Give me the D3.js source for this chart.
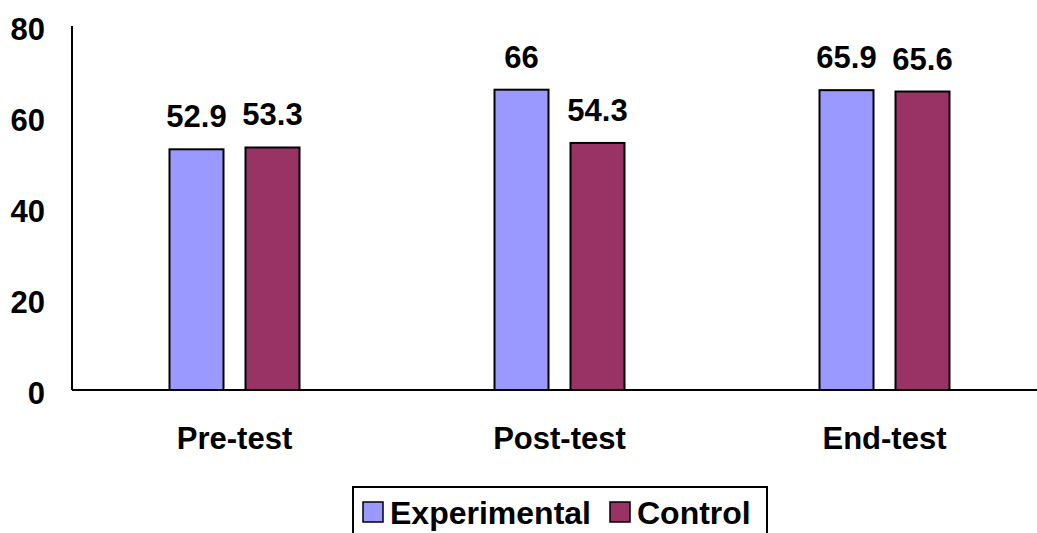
<!DOCTYPE html>
<html>
<head>
<meta charset="utf-8">
<script src="https://cdn.jsdelivr.net/npm/d3@7"></script>
<style>
  html, body { margin: 0; padding: 0; background: #fff; }
  svg { display: block; }
  text { font-family: "Liberation Sans", Arial, sans-serif; font-weight: bold; fill: #000; }
</style>
</head>
<body>
<svg id="chart" width="1037" height="533"></svg>
<script>
// Test phases and group scores
const categories = ["Pre-test", "Post-test", "End-test"];
const seriesNames = ["Experimental", "Control"];
const experimental = [52.9, 66, 65.9];
const control = [53.3, 54.3, 65.6];
const yTicks = [0, 20, 40, 60, 80];
const colors = ["#9999FF", "#993366"];

(function () {
  const svg = d3.select("#chart");
  const W = 1037;
  const plotLeft = 72, plotBottom = 390, plotTop = 26;
  const fontSize = 31;

  const seriesValues = [experimental, control];
  const rows = categories.map((c, i) => ({
    category: c,
    values: seriesNames.map((s, j) => ({ series: s, value: seriesValues[j][i], color: colors[j] }))
  }));

  const x0 = d3.scaleBand().domain(categories).range([plotLeft, plotLeft + 975]).padding(0);
  const x1 = d3.scaleBand().domain(seriesNames)
    .range([97.5, 227.5]).paddingInner(22 / 76).paddingOuter(0);
  const y = d3.scaleLinear().domain([0, 80]).range([plotBottom, plotTop]);

  // Y tick labels
  svg.append("g").selectAll("text").data(yTicks).join("text")
    .attr("x", 45)
    .attr("y", d => y(d) + 3)
    .attr("text-anchor", "end")
    .attr("dominant-baseline", "central")
    .attr("font-size", fontSize)
    .text(d => d);

  // Bars
  const groups = svg.append("g").selectAll("g").data(rows).join("g")
    .attr("transform", d => `translate(${x0(d.category)},0)`);

  groups.selectAll("rect").data(d => d.values).join("rect")
    .attr("x", d => x1(d.series))
    .attr("y", d => y(d.value))
    .attr("width", x1.bandwidth())
    .attr("height", d => y(0) - y(d.value))
    .attr("fill", d => d.color)
    .attr("stroke", "#000")
    .attr("stroke-width", 2);

  // Value labels
  groups.selectAll("text.val").data(d => d.values).join("text")
    .attr("class", "val")
    .attr("x", d => x1(d.series) + x1.bandwidth() / 2)
    .attr("y", d => y(d.value) - 22)
    .attr("text-anchor", "middle")
    .attr("font-size", fontSize)
    .text(d => d.value);

  // Axis lines
  svg.append("line")
    .attr("x1", plotLeft).attr("x2", plotLeft)
    .attr("y1", plotTop).attr("y2", plotBottom)
    .attr("stroke", "#000").attr("stroke-width", 2);
  svg.append("line")
    .attr("x1", plotLeft).attr("x2", W)
    .attr("y1", plotBottom).attr("y2", plotBottom)
    .attr("stroke", "#000").attr("stroke-width", 2);

  // Category labels
  svg.append("g").selectAll("text").data(categories).join("text")
    .attr("x", d => x0(d) + x0.bandwidth() / 2)
    .attr("y", 449)
    .attr("text-anchor", "middle")
    .attr("font-size", fontSize)
    .text(d => d);

  // Legend
  const legend = svg.append("g");
  legend.append("rect")
    .attr("x", 353).attr("y", 487)
    .attr("width", 414).attr("height", 70)
    .attr("fill", "#fff").attr("stroke", "#000").attr("stroke-width", 2);

  const legendItems = [
    { name: seriesNames[0], color: colors[0], sx: 363 },
    { name: seriesNames[1], color: colors[1], sx: 610 }
  ];
  legendItems.forEach(it => {
    legend.append("rect")
      .attr("x", it.sx).attr("y", 502)
      .attr("width", 20).attr("height", 20)
      .attr("fill", it.color).attr("stroke", "#000").attr("stroke-width", 1.5);
    legend.append("text")
      .attr("x", it.sx + 27).attr("y", 524)
      .attr("font-size", 32)
      .text(it.name);
  });
})();
</script>
</body>
</html>
